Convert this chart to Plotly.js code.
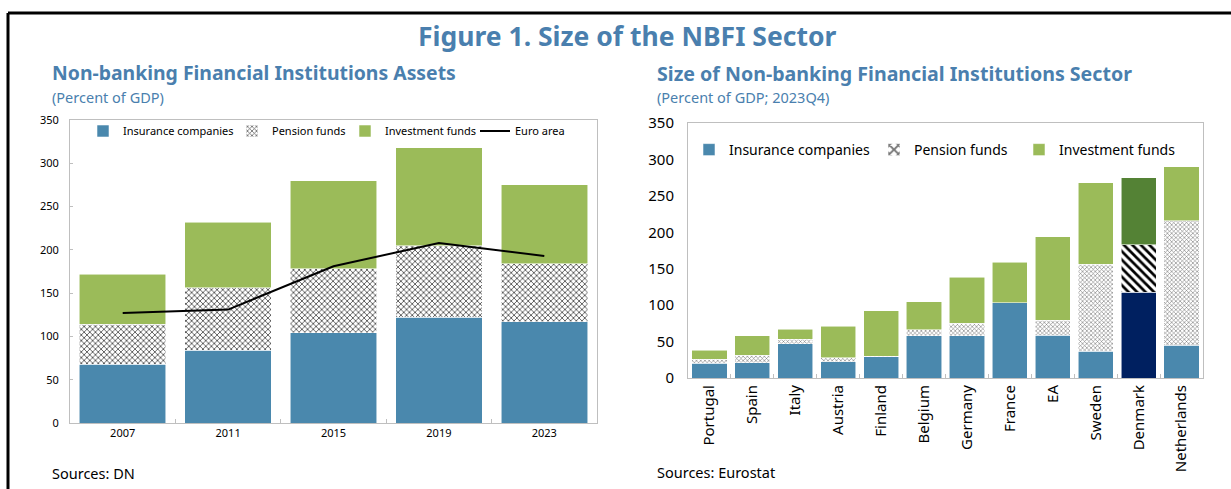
<!DOCTYPE html>
<html><head><meta charset="utf-8">
<script src="https://cdn.plot.ly/plotly-3.0.1.min.js"></script>
<style>html,body{margin:0;padding:0;background:#fff}#chart{width:1231px;height:489px}</style>
</head><body><div id="chart"></div>
<script>
// ---- Left chart data ----
const years = ['2007', '2011', '2015', '2019', '2023'];
const assetsInsurance = [68, 84, 104, 122, 117];
const assetsPension = [46, 72, 74, 83, 67];
const assetsInvestment = [58, 76, 102, 113, 91];
const euroArea = [127, 131, 181, 208, 193];

// ---- Right chart data ----
const countries = ['Portugal', 'Spain', 'Italy', 'Austria', 'Finland', 'Belgium', 'Germany', 'France', 'EA', 'Sweden', 'Denmark', 'Netherlands'];
const sizeInsurance = [20, 21, 47, 22, 29, 58, 58, 103, 59, 37, 118, 45];
const sizePension = [6, 10, 6, 6, 1, 8, 17, 0, 20, 119, 65, 171];
const sizeInvestment = [12, 27, 14, 43, 62, 39, 63, 56, 115, 112, 92, 74];
const highlight = 'Denmark';

const W = 1231, H = 489;
const px = x => x / W;
const py = y => 1 - y / H;

const BLUE = '#4A88AD', GREEN = '#9BBB59', NAVY = '#002060', DGREEN = '#548235';
const TITLE = '#4A7FAE';
const FONT = 'Noto Sans';
const isH = countries.map(c => c === highlight);

const edge = {color: 'rgba(255,255,255,0.9)', width: 0.6};

const traces = [
  {type: 'bar', x: years, y: assetsInsurance, name: 'Insurance companies', xaxis: 'x', yaxis: 'y', legend: 'legend',
   marker: {color: BLUE, line: edge}, legendwidth: 104},
  {type: 'bar', x: years, y: assetsPension, name: 'Pension funds', xaxis: 'x', yaxis: 'y', legend: 'legend',
   marker: {color: '#ffffff', line: edge, pattern: {shape: 'x', fgcolor: '#555', bgcolor: '#fff', size: 4, solidity: 0.4}}, legendwidth: 68},
  {type: 'bar', x: years, y: assetsInvestment, name: 'Investment funds', xaxis: 'x', yaxis: 'y', legend: 'legend',
   marker: {color: GREEN, line: edge}, legendwidth: 85},
  {type: 'scatter', mode: 'lines', x: years, y: euroArea, name: 'Euro area', xaxis: 'x', yaxis: 'y', legend: 'legend',
   line: {color: '#000', width: 2}},

  {type: 'bar', x: countries, y: sizeInsurance, name: 'Insurance companies', xaxis: 'x2', yaxis: 'y2', legend: 'legend2',
   marker: {color: isH.map(h => h ? NAVY : BLUE), line: edge}, legendwidth: 140},
  {type: 'bar', x: countries, y: sizePension, name: 'Pension funds', xaxis: 'x2', yaxis: 'y2', legend: 'legend2',
   marker: {color: '#ffffff', line: edge, pattern: {
     shape: isH.map(h => h ? '\\' : 'x'),
     fgcolor: isH.map(h => h ? '#000' : '#777'),
     bgcolor: '#fff',
     size: isH.map(h => h ? 6 : 3),
     solidity: isH.map(h => h ? 0.45 : 0.35)}}, legendwidth: 100},
  {type: 'bar', x: countries, y: sizeInvestment, name: 'Investment funds', xaxis: 'x2', yaxis: 'y2', legend: 'legend2',
   marker: {color: isH.map(h => h ? DGREEN : GREEN), line: edge}}
];

const axisLine = '#BFBFBF';
const ann = (text, x, y, size, opts) => Object.assign({
  text, x: px(x), y: py(y), xref: 'paper', yref: 'paper', showarrow: false,
  xanchor: 'left', yanchor: 'middle', font: {family: FONT, size, color: TITLE}
}, opts || {});

const layout = {
  width: W, height: H, margin: {l: 0, r: 0, t: 0, b: 0},
  paper_bgcolor: '#fff', plot_bgcolor: '#fff',
  barmode: 'stack', bargap: 0.18,
  font: {family: FONT, color: '#000'},
  xaxis: {domain: [px(70), px(597)], type: 'category', showline: true, linecolor: axisLine, mirror: true,
          ticks: 'inside', tickson: 'boundaries', ticklen: 4, tickcolor: axisLine, tickfont: {size: 11}, showgrid: false},
  yaxis: {domain: [py(423), py(120)], range: [0, 350], dtick: 50, showline: true, linecolor: axisLine, mirror: true,
          ticks: 'inside', ticklen: 3, tickcolor: axisLine, tickfont: {size: 11}, showgrid: false, zeroline: false, ticklabelstandoff: 8},
  xaxis2: {domain: [px(688), px(1203)], type: 'category', showline: true, linecolor: axisLine, mirror: true, anchor: 'y2',
          ticks: 'inside', tickson: 'boundaries', ticklen: 4, tickcolor: axisLine, tickfont: {size: 15}, tickangle: -90, showgrid: false},
  yaxis2: {domain: [py(378), py(123)], range: [0, 350], dtick: 50, showline: true, linecolor: axisLine, mirror: true, anchor: 'x2',
          ticks: '', tickfont: {size: 15}, showgrid: false, zeroline: false, ticklabelstandoff: 10},
  legend: {orientation: 'h', x: px(83), y: py(131), xanchor: 'left', yanchor: 'middle', bgcolor: 'rgba(0,0,0,0)',
           font: {family: FONT, size: 11}, itemwidth: 30, traceorder: 'normal'},
  legend2: {orientation: 'h', x: px(689), y: py(150), xanchor: 'left', yanchor: 'middle', bgcolor: 'rgba(0,0,0,0)',
           font: {family: FONT, size: 14}, itemwidth: 30, traceorder: 'normal'},
  shapes: [
    {type: 'line', xref: 'paper', yref: 'paper', x0: px(8), x1: 1, y0: py(13), y1: py(13), line: {color: '#000', width: 3}},
    {type: 'line', xref: 'paper', yref: 'paper', x0: px(8), x1: px(8), y0: py(13), y1: 0, line: {color: '#000', width: 3}}
  ],
  annotations: [
    ann('Figure 1. Size of the NBFI Sector', 627, 36, 26.5, {xanchor: 'center', font: {family: FONT, size: 26.5, color: TITLE, weight: 700}}),
    ann('Non-banking Financial Institutions Assets', 50, 72, 19.4, {font: {family: FONT, size: 19.4, color: TITLE, weight: 700}}),
    ann('(Percent of GDP)', 50, 97, 14.5),
    ann('Size of Non-banking Financial Institutions Sector', 655, 73, 19.6, {font: {family: FONT, size: 19.6, color: TITLE, weight: 700}}),
    ann('(Percent of GDP; 2023Q4)', 655, 97, 14.5),
    ann('Sources: DN', 50, 473, 14.5, {font: {family: FONT, size: 14.5, color: '#000'}}),
    ann('Sources: Eurostat', 655, 472, 14.5, {font: {family: FONT, size: 14.5, color: '#000'}})
  ]
};

Plotly.newPlot('chart', traces, layout, {displayModeBar: false, staticPlot: true});
</script>
</body></html>
